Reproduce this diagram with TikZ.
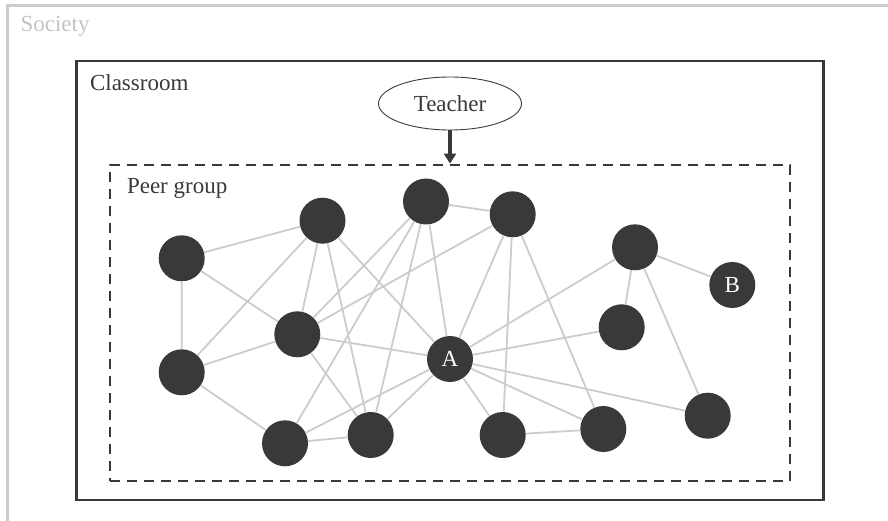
\documentclass[tikz,border=0pt]{standalone}
\usepackage{fontspec}
\setmainfont{Liberation Serif}
\usetikzlibrary{shapes.geometric,arrows.meta}

\definecolor{escuro}{RGB}{58,57,55}
\definecolor{cinza}{RGB}{204,204,204}
\definecolor{textocinza}{RGB}{196,196,196}

\begin{document}
\begin{tikzpicture}[x=1pt,y=-1pt,
		font=\fontsize{23}{27}\selectfont,
		aluno/.style={circle, fill=escuro, inner sep=0pt, minimum size=46pt, text=white},
		aresta/.style={cinza, line width=1.8pt}]
		\useasboundingbox (0,0) rectangle (888,521);
		\draw[cinza, line width=2.5pt] (888,5.3) -- (7.3,5.3) -- (7.3,521);		% Sociedade
		\node[textocinza, anchor=base west] (soc) at (17,32) {Society};			% Rótulo sociedade
		
		\node[draw=escuro, line width=2.6pt, minimum width=746.6pt, minimum height=439pt, inner sep=0pt] (sala) at (450,280.5) {};	% Sala de aula
		\node[text=escuro, anchor=base west] (rsala) at (86.5,90.5) {Classroom};	% Rótulo sala
		
		\node[draw=escuro, line width=2.8pt, dash pattern=on 10pt off 7pt, minimum width=680pt, minimum height=316pt, inner sep=0pt] (grupo) at (450,323) {};	% Grupo de pares
		\node[text=escuro, anchor=base west] (rgrupo) at (123.5,194) {Peer group};	% Rótulo grupo
		
		\node[ellipse, draw=escuro, line width=0.9pt, minimum width=143pt, minimum height=53pt, inner sep=0pt, text=escuro] (prof) at (450,103.5) {Teacher};
		\draw[escuro, line width=3.6pt, -{Triangle[length=10pt,width=12pt]}] (prof) -- (prof |- grupo.north);
		
		% Alunos
		\node[aluno] (s1) at (181.7,258.3) {};
		\node[aluno] (s2) at (322.5,220.7) {};
		\node[aluno] (s3) at (426,201.5) {};
		\node[aluno] (s4) at (297.3,334.3) {};
		\node[aluno] (s5) at (181.7,372.3) {};
		\node[aluno] (s6) at (285,443.3) {};
		\node[aluno] (s7) at (370.7,435) {};
		\node[aluno] (a) at (450,359) {A};
		\node[aluno] (s8) at (512.7,214.3) {};
		\node[aluno] (s9) at (635,247.3) {};
		\node[aluno] (b) at (732.3,285) {B};
		\node[aluno] (s10) at (621.7,327.3) {};
		\node[aluno] (s11) at (502.7,435) {};
		\node[aluno] (s12) at (603.3,429) {};
		\node[aluno] (s13) at (707.7,415.7) {};
		
		% Ligações
		\draw[aresta] (s1) -- (s2) (s1) -- (s5) (s1) -- (s4);
		\draw[aresta] (s2) -- (s5) (s2) -- (s4) (s2) -- (a) (s2) -- (s7);
		\draw[aresta] (s3) -- (s4) (s3) -- (s6) (s3) -- (s7) (s3) -- (a) (s3) -- (s8);
		\draw[aresta] (s8) -- (s4) (s8) -- (a) (s8) -- (s11) (s8) -- (s12);
		\draw[aresta] (s4) -- (a) (s4) -- (s7) (s5) -- (s4) (s5) -- (s6);
		\draw[aresta] (s6) -- (s7) (s6) -- (a) (s7) -- (a);
		\draw[aresta] (s9) -- (a) (s9) -- (b) (s9) -- (s10) (s9) -- (s13);
		\draw[aresta] (a) -- (s10) (a) -- (s11) (a) -- (s12) (a) -- (s13) (s11) -- (s12);
	\end{tikzpicture}
\end{document}
